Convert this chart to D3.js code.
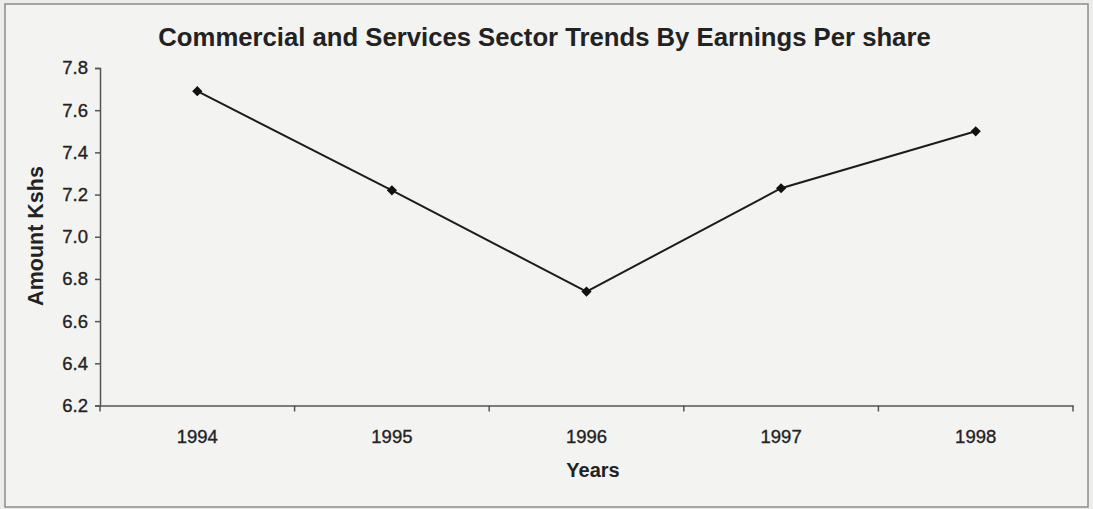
<!DOCTYPE html>
<html>
<head>
<meta charset="utf-8">
<script src="https://cdn.jsdelivr.net/npm/d3@7"></script>
<style>
  html, body { margin: 0; padding: 0; background: #ececea; }
  svg { display: block; }
  text { font-family: Arial, "Liberation Sans", Helvetica, sans-serif; fill: #222; }
</style>
</head>
<body>
<svg id="chart" width="1093" height="509"></svg>
<script>
// Earnings per share of the commercial and services sector, 1994-1998
const years = ["1994", "1995", "1996", "1997", "1998"];
const earningsPerShare = [7.69, 7.22, 6.74, 7.23, 7.50];
const yTicks = [6.2, 6.4, 6.6, 6.8, 7.0, 7.2, 7.4, 7.6, 7.8];

const titleText = "Commercial and Services Sector Trends By Earnings Per share";
const xTitle = "Years";
const yTitle = "Amount Kshs";

const plot = { left: 100, right: 1073, top: 68, bottom: 405.5 };

const svg = d3.select("#chart");

// chart frame
svg.append("rect")
  .attr("x", 5).attr("y", 4)
  .attr("width", 1083).attr("height", 503)
  .attr("fill", "#f3f3f1")
  .attr("stroke", "#8c8c8a")
  .attr("stroke-width", 1.5);

const x = d3.scaleBand().domain(years).range([plot.left, plot.right]).padding(0);
const y = d3.scaleLinear().domain([6.2, 7.8]).range([plot.bottom, plot.top]);

const axisColor = "#555";
const labelFont = 'Arial, "Liberation Sans", sans-serif';

function styleLabels(sel) {
  sel.attr("font-size", 18.5)
    .attr("fill", "#252525")
    .attr("stroke", "#252525")
    .attr("stroke-width", 0.35)
    .style("font-family", labelFont);
}

// y axis
const yAxis = svg.append("g")
  .attr("transform", `translate(${plot.left},0)`)
  .call(d3.axisLeft(y).tickValues(yTicks).tickFormat(d3.format(".1f")).tickSize(5).tickPadding(7));
yAxis.select(".domain").attr("stroke", axisColor).attr("stroke-width", 1.5);
yAxis.selectAll(".tick line").attr("stroke", axisColor).attr("stroke-width", 1.5);
styleLabels(yAxis.selectAll(".tick text"));

// x axis: labels centred in each band, ticks on the band edges
const xAxis = svg.append("g")
  .attr("transform", `translate(0,${plot.bottom})`)
  .call(d3.axisBottom(x).tickSizeInner(0).tickSizeOuter(0).tickPadding(24));
xAxis.select(".domain").attr("stroke", axisColor).attr("stroke-width", 1.5);
styleLabels(xAxis.selectAll(".tick text"));

const edges = years.map(d => x(d)).concat([x.range()[1]]);
svg.append("g").selectAll("line")
  .data(edges)
  .join("line")
  .attr("x1", d => d).attr("x2", d => d)
  .attr("y1", plot.bottom).attr("y2", plot.bottom + 6)
  .attr("stroke", axisColor)
  .attr("stroke-width", 1.5);

// series line
const pts = years.map((yr, i) => ({ yr, v: earningsPerShare[i] }));
const cx = d => x(d.yr) + x.bandwidth() / 2;

svg.append("path")
  .datum(pts)
  .attr("fill", "none")
  .attr("stroke", "#1c1c1c")
  .attr("stroke-width", 2)
  .attr("d", d3.line().x(cx).y(d => y(d.v)));

// diamond markers
svg.append("g").selectAll("path")
  .data(pts)
  .join("path")
  .attr("d", d3.symbol().type(d3.symbolSquare).size(52))
  .attr("transform", d => `translate(${cx(d)},${y(d.v)}) rotate(45)`)
  .attr("fill", "#111");

// titles
svg.append("text")
  .attr("x", 544.5).attr("y", 46)
  .attr("text-anchor", "middle")
  .attr("font-size", 25.7)
  .attr("font-weight", "bold")
  .attr("fill", "#1e1e1e")
  .text(titleText);

svg.append("text")
  .attr("x", 593).attr("y", 477)
  .attr("text-anchor", "middle")
  .attr("font-size", 20)
  .attr("font-weight", "bold")
  .attr("fill", "#1e1e1e")
  .text(xTitle);

svg.append("text")
  .attr("transform", "translate(43,236) rotate(-90)")
  .attr("text-anchor", "middle")
  .attr("font-size", 21.5)
  .attr("font-weight", "bold")
  .attr("fill", "#1e1e1e")
  .text(yTitle);
</script>
</body>
</html>
